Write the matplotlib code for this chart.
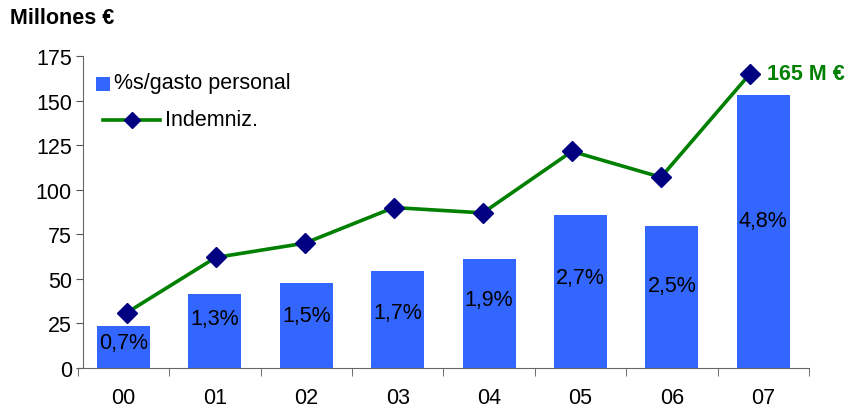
import matplotlib
matplotlib.use("Agg")
import matplotlib.pyplot as plt
from matplotlib.lines import Line2D
from matplotlib.patches import Rectangle
import numpy as np

plt.rcParams['font.family'] = ['Liberation Sans', 'DejaVu Sans']

years = ["00", "01", "02", "03", "04", "05", "06", "07"]
bar_values = [23.5, 41.5, 47.7, 54.5, 61, 86, 79.7, 153]
pct_labels = ["0,7%", "1,3%", "1,5%", "1,7%", "1,9%", "2,7%", "2,5%", "4,8%"]
label_y = [14.5, 27.5, 29.7, 31.4, 38.7, 51, 46.5, 83]
indemniz = [31, 62, 70, 90, 87, 121.5, 107, 165]

W, H = 853, 410
FS = 15.5
fig = plt.figure(figsize=(W / 100, H / 100), dpi=100)
ax_box = [77.85 / W, 1 - 369 / H, (809 - 77.85) / W, (369 - 57) / H]
ax = fig.add_axes(ax_box)

x = np.arange(len(years))
ax.bar(x, bar_values, width=0.58, color="#3366FF", zorder=2)
for xi, yl, t in zip(x, label_y, pct_labels):
    ax.text(xi, yl, t, ha="center", va="center", fontsize=FS, color="black", zorder=4)

ax.set_xlim(-0.5, 7.5)
ax.set_ylim(0, 175)
ax.set_yticks([0, 25, 50, 75, 100, 125, 150, 175])
ax.set_xticks(x)
ax.set_xticklabels(years)
ax.set_xticks(np.arange(-0.5, 8.0, 1.0), minor=True)
ax.tick_params(axis="x", which="major", length=0, pad=14, labelsize=FS)
ax.tick_params(axis="x", which="minor", length=6, color="#555555", direction="out")
ax.tick_params(axis="y", length=5, color="#555555", direction="out", labelsize=FS, pad=3)
ax.spines["left"].set_position(("data", -0.445))
for s in ["top", "right"]:
    ax.spines[s].set_visible(False)
for s in ["left", "bottom"]:
    ax.spines[s].set_color("#666666")

# line series on its own (slightly differently scaled) category axis
ax2 = fig.add_axes(ax_box, sharey=ax)
ax2.patch.set_visible(False)
ax2.set_xlim(-0.5486, 7.663)
ax2.axis("off")
ax2.plot(x, indemniz, color="#008000", lw=2.6, marker="D", markersize=10,
         markerfacecolor="#000080", markeredgecolor="#000080", zorder=3)
ax2.annotate(f"{indemniz[-1]:.0f} M €", (x[-1], indemniz[-1]), xytext=(12, 0),
             textcoords="offset points", ha="left", va="center",
             fontsize=FS, fontweight="bold", color="#008000", annotation_clip=False)

# legend (drawn manually to match the original layout)
def fx(px):
    return px / W

def fy(py):
    return 1 - py / H

fig.patches.append(Rectangle((fx(96), fy(92)), 14 / W, 14 / H, transform=fig.transFigure,
                             facecolor="#3366FF", edgecolor="none"))
fig.text(fx(114), fy(84), "%s/gasto personal", fontsize=FS, ha="left", va="center")
fig.add_artist(Line2D([fx(103), fx(160)], [fy(121), fy(121)], transform=fig.transFigure,
                      color="#008000", lw=2.6))
fig.add_artist(Line2D([fx(131.5)], [fy(121)], transform=fig.transFigure, marker="D",
                      markersize=8, markerfacecolor="#000080", markeredgecolor="#000080",
                      linestyle="none"))
fig.text(fx(165), fy(121), "Indemniz.", fontsize=FS, ha="left", va="center")

fig.text(fx(10), fy(19), "Millones €", fontsize=15.5, fontweight="bold", ha="left", va="center")

fig.savefig("out.png", dpi=100)
